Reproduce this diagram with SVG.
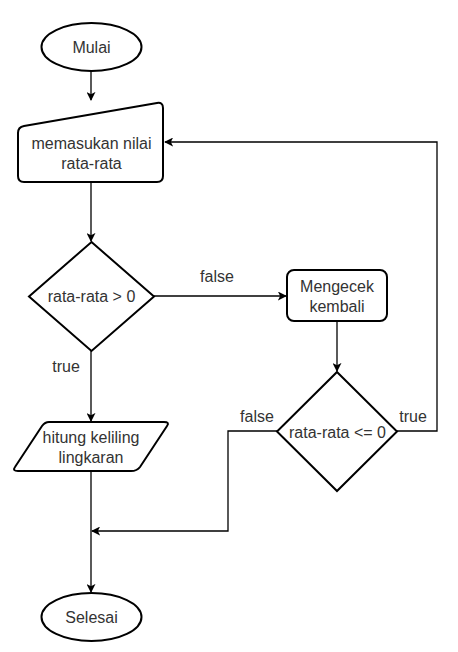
<svg xmlns="http://www.w3.org/2000/svg" width="458" height="652" viewBox="0 0 458 652">
<style>
.node{fill:#fff;stroke:#000;stroke-width:2}
.edge{fill:none;stroke:#000;stroke-width:1.3}
text{font-family:"Liberation Sans",Arial,sans-serif;font-size:16px;fill:#333;text-anchor:middle}
</style>
<defs>
<marker id="arr" viewBox="0 0 10 10" refX="9" refY="5" markerWidth="9" markerHeight="9" markerUnits="userSpaceOnUse" orient="auto">
<path d="M0,0 L10,5 L0,10 L2.5,5 Z" fill="#000"/>
</marker>
</defs>
<rect width="458" height="652" fill="#fff"/>
<g id="edges">
<path class="edge" d="M91,71 V100" marker-end="url(#arr)"/>
<path class="edge" d="M91,182 V241" marker-end="url(#arr)"/>
<path class="edge" d="M154,296 H286" marker-end="url(#arr)"/>
<path class="edge" d="M337,321 V371" marker-end="url(#arr)"/>
<path class="edge" d="M91,351 V421" marker-end="url(#arr)"/>
<path class="edge" d="M397,431 H437 V142 H165" marker-end="url(#arr)"/>
<path class="edge" d="M277,431 H228 V531 H92" marker-end="url(#arr)"/>
<path class="edge" d="M91,471 V592" marker-end="url(#arr)"/>
<text x="217" y="282">false</text>
<text x="66" y="372">true</text>
<text x="257" y="422">false</text>
<text x="413" y="422">true</text>
</g>
<g id="mulai">
<ellipse class="node" cx="91.5" cy="47" rx="50" ry="24"/>
<text x="91.5" y="53">Mulai</text>
</g>
<g id="input">
<path class="node" d="M18,133 Q18,127 24,126 L157,103 Q163,102 163,108 V176 Q163,182 157,182 H24 Q18,182 18,176 Z"/>
<text x="91.5" y="149">memasukan nilai</text>
<text x="91.5" y="169">rata-rata</text>
</g>
<g id="cek1">
<path class="node" d="M91.5,242 L154,296.5 L91.5,351 L29,296.5 Z"/>
<text x="91.5" y="302">rata-rata &gt; 0</text>
</g>
<g id="mengecek">
<rect class="node" x="287" y="270" width="100" height="51" rx="7"/>
<text x="337" y="292">Mengecek</text>
<text x="337" y="312">kembali</text>
</g>
<g id="cek2">
<path class="node" d="M337,372 L397,431.5 L337,491 L277,431.5 Z"/>
<text x="337.5" y="438">rata-rata &lt;= 0</text>
</g>
<g id="hitung">
<path class="node" d="M49,422 H164 Q170,422 167,426 L140,467 Q137,471 131,471 H18 Q12,471 15,467 L42,426 Q45,422 49,422 Z"/>
<text x="91" y="443">hitung keliling</text>
<text x="91" y="463">lingkaran</text>
</g>
<g id="selesai">
<ellipse class="node" cx="91.5" cy="617" rx="50" ry="24"/>
<text x="91.5" y="623">Selesai</text>
</g>
</svg>
